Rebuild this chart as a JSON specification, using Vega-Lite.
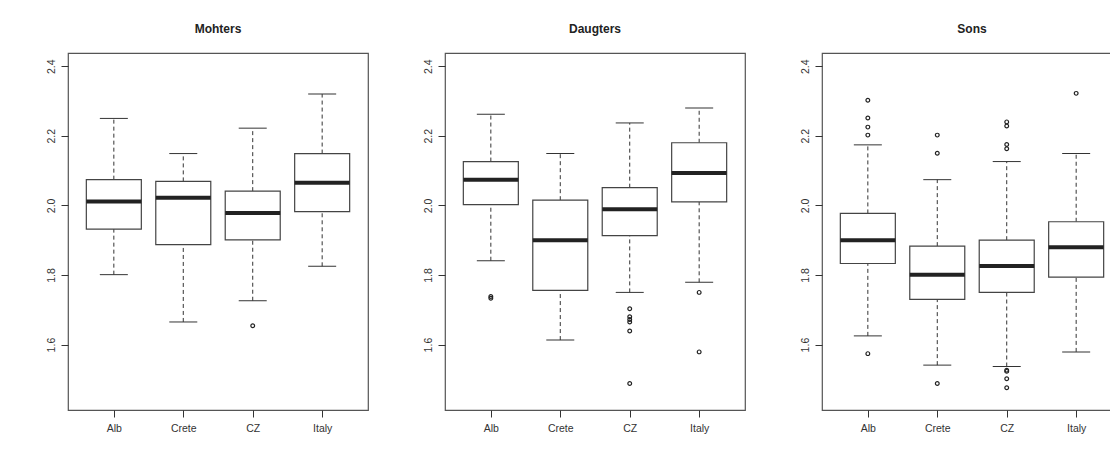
{
  "$schema": "https://vega.github.io/schema/vega-lite/v6.json",
  "padding": {"left": 37, "top": 23, "right": 0, "bottom": 0},
  "background": "white",
  "config": {
    "view": {"stroke": "#555", "strokeWidth": 1.2},
    "font": "Liberation Sans",
    "axis": {"labelFont": "Liberation Sans", "labelColor": "#333", "labelFontSize": 10.5, "tickColor": "#333", "tickSize": 7, "domain": false, "grid": false, "title": null}
  },
  "data": {"values": [
    {"panel": "Mohters", "grp": "Alb", "kind": "box", "lo": 1.801, "q1": 1.932, "med": 2.011, "q3": 2.074, "hi": 2.250},
    {"panel": "Mohters", "grp": "Crete", "kind": "box", "lo": 1.665, "q1": 1.887, "med": 2.022, "q3": 2.069, "hi": 2.149},
    {"panel": "Mohters", "grp": "CZ", "kind": "box", "lo": 1.726, "q1": 1.901, "med": 1.978, "q3": 2.041, "hi": 2.222},
    {"panel": "Mohters", "grp": "Italy", "kind": "box", "lo": 1.825, "q1": 1.982, "med": 2.065, "q3": 2.149, "hi": 2.320},
    {"panel": "Mohters", "grp": "CZ", "kind": "out", "v": 1.654},
    {"panel": "Daugters", "grp": "Alb", "kind": "box", "lo": 1.841, "q1": 2.002, "med": 2.074, "q3": 2.126, "hi": 2.262},
    {"panel": "Daugters", "grp": "Crete", "kind": "box", "lo": 1.613, "q1": 1.756, "med": 1.900, "q3": 2.015, "hi": 2.149},
    {"panel": "Daugters", "grp": "CZ", "kind": "box", "lo": 1.750, "q1": 1.913, "med": 1.989, "q3": 2.051, "hi": 2.237},
    {"panel": "Daugters", "grp": "Italy", "kind": "box", "lo": 1.779, "q1": 2.010, "med": 2.093, "q3": 2.180, "hi": 2.280},
    {"panel": "Daugters", "grp": "Alb", "kind": "out", "v": 1.738},
    {"panel": "Daugters", "grp": "Alb", "kind": "out", "v": 1.733},
    {"panel": "Daugters", "grp": "CZ", "kind": "out", "v": 1.703},
    {"panel": "Daugters", "grp": "CZ", "kind": "out", "v": 1.680},
    {"panel": "Daugters", "grp": "CZ", "kind": "out", "v": 1.672},
    {"panel": "Daugters", "grp": "CZ", "kind": "out", "v": 1.665},
    {"panel": "Daugters", "grp": "CZ", "kind": "out", "v": 1.639},
    {"panel": "Daugters", "grp": "CZ", "kind": "out", "v": 1.488},
    {"panel": "Daugters", "grp": "Italy", "kind": "out", "v": 1.750},
    {"panel": "Daugters", "grp": "Italy", "kind": "out", "v": 1.579},
    {"panel": "Sons", "grp": "Alb", "kind": "box", "lo": 1.625, "q1": 1.833, "med": 1.900, "q3": 1.977, "hi": 2.174},
    {"panel": "Sons", "grp": "Crete", "kind": "box", "lo": 1.541, "q1": 1.730, "med": 1.801, "q3": 1.883, "hi": 2.074},
    {"panel": "Sons", "grp": "CZ", "kind": "box", "lo": 1.537, "q1": 1.750, "med": 1.826, "q3": 1.900, "hi": 2.126},
    {"panel": "Sons", "grp": "Italy", "kind": "box", "lo": 1.579, "q1": 1.794, "med": 1.880, "q3": 1.953, "hi": 2.149},
    {"panel": "Sons", "grp": "Alb", "kind": "out", "v": 2.302},
    {"panel": "Sons", "grp": "Alb", "kind": "out", "v": 2.251},
    {"panel": "Sons", "grp": "Alb", "kind": "out", "v": 2.225},
    {"panel": "Sons", "grp": "Alb", "kind": "out", "v": 2.202},
    {"panel": "Sons", "grp": "Alb", "kind": "out", "v": 1.574},
    {"panel": "Sons", "grp": "Crete", "kind": "out", "v": 2.202},
    {"panel": "Sons", "grp": "Crete", "kind": "out", "v": 2.150},
    {"panel": "Sons", "grp": "Crete", "kind": "out", "v": 1.488},
    {"panel": "Sons", "grp": "CZ", "kind": "out", "v": 2.240},
    {"panel": "Sons", "grp": "CZ", "kind": "out", "v": 2.228},
    {"panel": "Sons", "grp": "CZ", "kind": "out", "v": 2.175},
    {"panel": "Sons", "grp": "CZ", "kind": "out", "v": 2.163},
    {"panel": "Sons", "grp": "CZ", "kind": "out", "v": 1.526},
    {"panel": "Sons", "grp": "CZ", "kind": "out", "v": 1.523},
    {"panel": "Sons", "grp": "CZ", "kind": "out", "v": 1.502},
    {"panel": "Sons", "grp": "CZ", "kind": "out", "v": 1.476},
    {"panel": "Sons", "grp": "Italy", "kind": "out", "v": 2.322}
  ]},
  "facet": {
    "column": {
      "field": "panel", "type": "nominal", "sort": ["Mohters", "Daugters", "Sons"],
      "header": {"title": null, "labelFontWeight": "bold", "labelFontSize": 12, "labelFont": "Liberation Sans", "labelColor": "#222", "labelPadding": 16}
    }
  },
  "spacing": 45,
  "resolve": {"axis": {"y": "independent", "x": "independent"}},
  "spec": {
    "width": 300,
    "height": 357,
    "encoding": {
      "x": {"field": "grp", "type": "nominal", "sort": ["Alb", "Crete", "CZ", "Italy"],
        "scale": {"type": "point", "padding": 0.66},
        "axis": {"labelAngle": 0, "labelPadding": 6, "minExtent": 30, "maxExtent": 30}}
    },
    "layer": [
      {
        "transform": [{"filter": "datum.kind === 'box'"}],
        "mark": {"type": "rule", "color": "#333", "strokeDash": [4, 3], "strokeWidth": 1},
        "encoding": {
          "y": {"field": "q3", "type": "quantitative", "scale": {"domain": [1.412, 2.438], "nice": false, "zero": false},
            "axis": {"values": [1.6, 1.8, 2.0, 2.2, 2.4], "format": ".1f", "labelAngle": -90, "labelAlign": "center", "labelBaseline": "bottom", "labelPadding": 5, "minExtent": 30, "maxExtent": 30}},
          "y2": {"field": "hi"}
        }
      },
      {
        "transform": [{"filter": "datum.kind === 'box'"}],
        "mark": {"type": "rule", "color": "#333", "strokeDash": [4, 3], "strokeWidth": 1},
        "encoding": {"y": {"field": "lo", "type": "quantitative"}, "y2": {"field": "q1"}}
      },
      {
        "transform": [{"filter": "datum.kind === 'box'"}],
        "mark": {"type": "bar", "fill": "white", "stroke": "#444", "strokeWidth": 1.2, "size": 55, "opacity": 1},
        "encoding": {"y": {"field": "q1", "type": "quantitative"}, "y2": {"field": "q3"}}
      },
      {
        "transform": [{"filter": "datum.kind === 'box'"}],
        "mark": {"type": "tick", "color": "#222", "size": 55, "thickness": 4, "opacity": 1},
        "encoding": {"y": {"field": "med", "type": "quantitative"}}
      },
      {
        "transform": [{"filter": "datum.kind === 'box'"}],
        "mark": {"type": "tick", "color": "#333", "size": 28, "thickness": 1, "opacity": 1},
        "encoding": {"y": {"field": "hi", "type": "quantitative"}}
      },
      {
        "transform": [{"filter": "datum.kind === 'box'"}],
        "mark": {"type": "tick", "color": "#333", "size": 28, "thickness": 1, "opacity": 1},
        "encoding": {"y": {"field": "lo", "type": "quantitative"}}
      },
      {
        "transform": [{"filter": "datum.kind === 'out'"}],
        "mark": {"type": "point", "shape": "circle", "filled": false, "color": "#222", "size": 14, "strokeWidth": 1.2, "opacity": 1},
        "encoding": {"y": {"field": "v", "type": "quantitative"}}
      }
    ]
  }
}
